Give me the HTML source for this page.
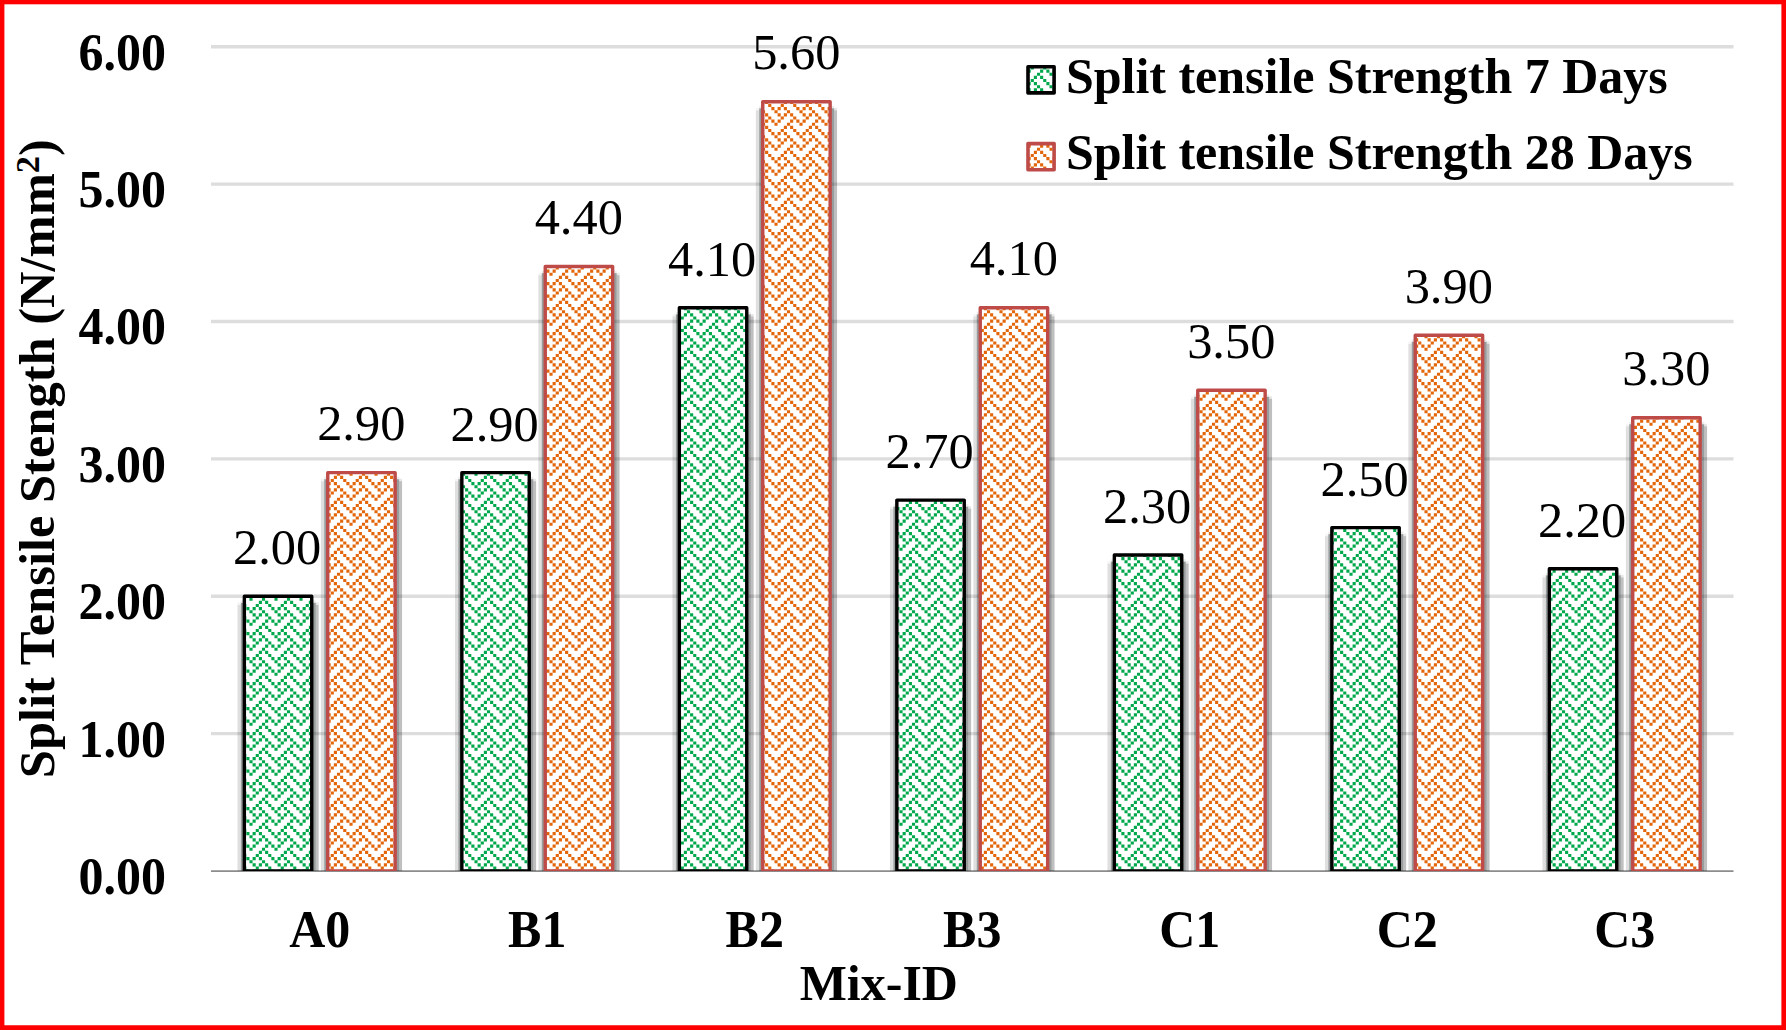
<!DOCTYPE html>
<html lang="en">
<head>
<meta charset="utf-8">
<title>Split Tensile Strength</title>
<style>
html,body{margin:0;padding:0;background:#fff;}
body{width:1786px;height:1030px;overflow:hidden;}
svg{display:block;}
text{font-family:"Liberation Serif","Times New Roman",serif;fill:#000;}
.b{font-weight:bold;}
</style>
</head>
<body>
<svg width="1786" height="1030" viewBox="0 0 1786 1030">
<defs>
<path id="pg" fill="#00A84C" d="M3.125 0h3.125v3.125h-3.125zM9.375 0h3.125v3.125h-3.125zM15.625 0h3.125v3.125h-3.125zM6.25 3.125h3.125v3.125h-3.125zM18.75 3.125h3.125v3.125h-3.125zM3.125 6.25h3.125v3.125h-3.125zM15.625 6.25h3.125v3.125h-3.125zM21.875 6.25h3.125v3.125h-3.125zM0 9.375h3.125v3.125h-3.125zM12.5 9.375h3.125v3.125h-3.125zM9.375 12.5h3.125v3.125h-3.125zM15.625 12.5h3.125v3.125h-3.125zM6.25 15.625h3.125v3.125h-3.125zM18.75 15.625h3.125v3.125h-3.125zM3.125 18.75h3.125v3.125h-3.125zM9.375 18.75h3.125v3.125h-3.125zM21.875 18.75h3.125v3.125h-3.125zM0 21.875h3.125v3.125h-3.125zM12.5 21.875h3.125v3.125h-3.125z"/>
<path id="po" fill="#E3660A" d="M3.125 0h3.125v3.125h-3.125zM9.375 0h3.125v3.125h-3.125zM15.625 0h3.125v3.125h-3.125zM6.25 3.125h3.125v3.125h-3.125zM18.75 3.125h3.125v3.125h-3.125zM3.125 6.25h3.125v3.125h-3.125zM15.625 6.25h3.125v3.125h-3.125zM21.875 6.25h3.125v3.125h-3.125zM0 9.375h3.125v3.125h-3.125zM12.5 9.375h3.125v3.125h-3.125zM9.375 12.5h3.125v3.125h-3.125zM15.625 12.5h3.125v3.125h-3.125zM6.25 15.625h3.125v3.125h-3.125zM18.75 15.625h3.125v3.125h-3.125zM3.125 18.75h3.125v3.125h-3.125zM9.375 18.75h3.125v3.125h-3.125zM21.875 18.75h3.125v3.125h-3.125zM0 21.875h3.125v3.125h-3.125zM12.5 21.875h3.125v3.125h-3.125z"/>
<clipPath id="plot"><rect x="0" y="0" width="1786" height="870.9"/></clipPath>
</defs>
<rect x="0" y="0" width="1786" height="1030" fill="#fff"/>
<g stroke="#dddddd" stroke-width="3.35"><line x1="211.0" y1="733.63" x2="1733.5" y2="733.63"/><line x1="211.0" y1="596.26" x2="1733.5" y2="596.26"/><line x1="211.0" y1="458.89" x2="1733.5" y2="458.89"/><line x1="211.0" y1="321.52" x2="1733.5" y2="321.52"/><line x1="211.0" y1="184.15" x2="1733.5" y2="184.15"/><line x1="211.0" y1="46.78" x2="1733.5" y2="46.78"/></g>
<line x1="211.0" y1="871.15" x2="1733.5" y2="871.15" stroke="#8c8c8c" stroke-width="1.9"/>
<g clip-path="url(#plot)"><rect x="237.45" y="604.86" width="3.4" height="276.44" fill="#000" fill-opacity="0.125"/><rect x="237.45" y="602.36" width="3.4" height="2.5" fill="#000" fill-opacity="0.04"/><rect x="240.85" y="602.86" width="2.6" height="276.44" fill="#0a1414" fill-opacity="0.42"/><rect x="240.85" y="600.36" width="2.6" height="2.5" fill="#000" fill-opacity="0.08"/><rect x="312.65" y="602.86" width="3.1" height="276.44" fill="#0a1414" fill-opacity="0.42"/><rect x="312.65" y="600.36" width="3.1" height="2.5" fill="#000" fill-opacity="0.08"/><rect x="315.75" y="604.86" width="2.9" height="276.44" fill="#000" fill-opacity="0.25"/><rect x="315.75" y="602.36" width="2.9" height="2.5" fill="#000" fill-opacity="0.09"/><svg x="244.35" y="596.26" width="67.40" height="274.64" viewBox="244.35 596.26 67.40 274.64"><rect x="244.35" y="596.26" width="67.40" height="274.64" fill="#fff"/><use href="#pg" x="224.46" y="588.37"/><use href="#pg" x="249.46" y="588.37"/><use href="#pg" x="274.46" y="588.37"/><use href="#pg" x="299.46" y="588.37"/><use href="#pg" x="224.46" y="613.37"/><use href="#pg" x="249.46" y="613.37"/><use href="#pg" x="274.46" y="613.37"/><use href="#pg" x="299.46" y="613.37"/><use href="#pg" x="224.46" y="638.37"/><use href="#pg" x="249.46" y="638.37"/><use href="#pg" x="274.46" y="638.37"/><use href="#pg" x="299.46" y="638.37"/><use href="#pg" x="224.46" y="663.37"/><use href="#pg" x="249.46" y="663.37"/><use href="#pg" x="274.46" y="663.37"/><use href="#pg" x="299.46" y="663.37"/><use href="#pg" x="224.46" y="688.37"/><use href="#pg" x="249.46" y="688.37"/><use href="#pg" x="274.46" y="688.37"/><use href="#pg" x="299.46" y="688.37"/><use href="#pg" x="224.46" y="713.37"/><use href="#pg" x="249.46" y="713.37"/><use href="#pg" x="274.46" y="713.37"/><use href="#pg" x="299.46" y="713.37"/><use href="#pg" x="224.46" y="738.37"/><use href="#pg" x="249.46" y="738.37"/><use href="#pg" x="274.46" y="738.37"/><use href="#pg" x="299.46" y="738.37"/><use href="#pg" x="224.46" y="763.37"/><use href="#pg" x="249.46" y="763.37"/><use href="#pg" x="274.46" y="763.37"/><use href="#pg" x="299.46" y="763.37"/><use href="#pg" x="224.46" y="788.37"/><use href="#pg" x="249.46" y="788.37"/><use href="#pg" x="274.46" y="788.37"/><use href="#pg" x="299.46" y="788.37"/><use href="#pg" x="224.46" y="813.37"/><use href="#pg" x="249.46" y="813.37"/><use href="#pg" x="274.46" y="813.37"/><use href="#pg" x="299.46" y="813.37"/><use href="#pg" x="224.46" y="838.37"/><use href="#pg" x="249.46" y="838.37"/><use href="#pg" x="274.46" y="838.37"/><use href="#pg" x="299.46" y="838.37"/><use href="#pg" x="224.46" y="863.37"/><use href="#pg" x="249.46" y="863.37"/><use href="#pg" x="274.46" y="863.37"/><use href="#pg" x="299.46" y="863.37"/></svg><rect x="244.35" y="596.26" width="67.40" height="274.64" fill="none" stroke="#000" stroke-width="3.4" stroke-linejoin="round"/><rect x="320.85" y="481.23" width="3.4" height="400.07" fill="#000" fill-opacity="0.125"/><rect x="320.85" y="478.73" width="3.4" height="2.5" fill="#000" fill-opacity="0.04"/><rect x="324.25" y="479.23" width="2.6" height="400.07" fill="#0a1414" fill-opacity="0.42"/><rect x="324.25" y="476.73" width="2.6" height="2.5" fill="#000" fill-opacity="0.08"/><rect x="396.05" y="479.23" width="3.1" height="400.07" fill="#0a1414" fill-opacity="0.42"/><rect x="396.05" y="476.73" width="3.1" height="2.5" fill="#000" fill-opacity="0.08"/><rect x="399.15" y="481.23" width="2.9" height="400.07" fill="#000" fill-opacity="0.25"/><rect x="399.15" y="478.73" width="2.9" height="2.5" fill="#000" fill-opacity="0.09"/><svg x="327.75" y="472.63" width="67.40" height="398.27" viewBox="327.75 472.63 67.40 398.27"><rect x="327.75" y="472.63" width="67.40" height="398.27" fill="#fff"/><use href="#po" x="324.46" y="463.37"/><use href="#po" x="349.46" y="463.37"/><use href="#po" x="374.46" y="463.37"/><use href="#po" x="324.46" y="488.37"/><use href="#po" x="349.46" y="488.37"/><use href="#po" x="374.46" y="488.37"/><use href="#po" x="324.46" y="513.37"/><use href="#po" x="349.46" y="513.37"/><use href="#po" x="374.46" y="513.37"/><use href="#po" x="324.46" y="538.37"/><use href="#po" x="349.46" y="538.37"/><use href="#po" x="374.46" y="538.37"/><use href="#po" x="324.46" y="563.37"/><use href="#po" x="349.46" y="563.37"/><use href="#po" x="374.46" y="563.37"/><use href="#po" x="324.46" y="588.37"/><use href="#po" x="349.46" y="588.37"/><use href="#po" x="374.46" y="588.37"/><use href="#po" x="324.46" y="613.37"/><use href="#po" x="349.46" y="613.37"/><use href="#po" x="374.46" y="613.37"/><use href="#po" x="324.46" y="638.37"/><use href="#po" x="349.46" y="638.37"/><use href="#po" x="374.46" y="638.37"/><use href="#po" x="324.46" y="663.37"/><use href="#po" x="349.46" y="663.37"/><use href="#po" x="374.46" y="663.37"/><use href="#po" x="324.46" y="688.37"/><use href="#po" x="349.46" y="688.37"/><use href="#po" x="374.46" y="688.37"/><use href="#po" x="324.46" y="713.37"/><use href="#po" x="349.46" y="713.37"/><use href="#po" x="374.46" y="713.37"/><use href="#po" x="324.46" y="738.37"/><use href="#po" x="349.46" y="738.37"/><use href="#po" x="374.46" y="738.37"/><use href="#po" x="324.46" y="763.37"/><use href="#po" x="349.46" y="763.37"/><use href="#po" x="374.46" y="763.37"/><use href="#po" x="324.46" y="788.37"/><use href="#po" x="349.46" y="788.37"/><use href="#po" x="374.46" y="788.37"/><use href="#po" x="324.46" y="813.37"/><use href="#po" x="349.46" y="813.37"/><use href="#po" x="374.46" y="813.37"/><use href="#po" x="324.46" y="838.37"/><use href="#po" x="349.46" y="838.37"/><use href="#po" x="374.46" y="838.37"/><use href="#po" x="324.46" y="863.37"/><use href="#po" x="349.46" y="863.37"/><use href="#po" x="374.46" y="863.37"/></svg><rect x="327.75" y="472.63" width="67.40" height="398.27" fill="none" stroke="#BE4B48" stroke-width="3.4" stroke-linejoin="round"/><rect x="454.95" y="481.23" width="3.4" height="400.07" fill="#000" fill-opacity="0.125"/><rect x="454.95" y="478.73" width="3.4" height="2.5" fill="#000" fill-opacity="0.04"/><rect x="458.35" y="479.23" width="2.6" height="400.07" fill="#0a1414" fill-opacity="0.42"/><rect x="458.35" y="476.73" width="2.6" height="2.5" fill="#000" fill-opacity="0.08"/><rect x="530.15" y="479.23" width="3.1" height="400.07" fill="#0a1414" fill-opacity="0.42"/><rect x="530.15" y="476.73" width="3.1" height="2.5" fill="#000" fill-opacity="0.08"/><rect x="533.25" y="481.23" width="2.9" height="400.07" fill="#000" fill-opacity="0.25"/><rect x="533.25" y="478.73" width="2.9" height="2.5" fill="#000" fill-opacity="0.09"/><svg x="461.85" y="472.63" width="67.40" height="398.27" viewBox="461.85 472.63 67.40 398.27"><rect x="461.85" y="472.63" width="67.40" height="398.27" fill="#fff"/><use href="#pg" x="449.46" y="463.37"/><use href="#pg" x="474.46" y="463.37"/><use href="#pg" x="499.46" y="463.37"/><use href="#pg" x="524.46" y="463.37"/><use href="#pg" x="449.46" y="488.37"/><use href="#pg" x="474.46" y="488.37"/><use href="#pg" x="499.46" y="488.37"/><use href="#pg" x="524.46" y="488.37"/><use href="#pg" x="449.46" y="513.37"/><use href="#pg" x="474.46" y="513.37"/><use href="#pg" x="499.46" y="513.37"/><use href="#pg" x="524.46" y="513.37"/><use href="#pg" x="449.46" y="538.37"/><use href="#pg" x="474.46" y="538.37"/><use href="#pg" x="499.46" y="538.37"/><use href="#pg" x="524.46" y="538.37"/><use href="#pg" x="449.46" y="563.37"/><use href="#pg" x="474.46" y="563.37"/><use href="#pg" x="499.46" y="563.37"/><use href="#pg" x="524.46" y="563.37"/><use href="#pg" x="449.46" y="588.37"/><use href="#pg" x="474.46" y="588.37"/><use href="#pg" x="499.46" y="588.37"/><use href="#pg" x="524.46" y="588.37"/><use href="#pg" x="449.46" y="613.37"/><use href="#pg" x="474.46" y="613.37"/><use href="#pg" x="499.46" y="613.37"/><use href="#pg" x="524.46" y="613.37"/><use href="#pg" x="449.46" y="638.37"/><use href="#pg" x="474.46" y="638.37"/><use href="#pg" x="499.46" y="638.37"/><use href="#pg" x="524.46" y="638.37"/><use href="#pg" x="449.46" y="663.37"/><use href="#pg" x="474.46" y="663.37"/><use href="#pg" x="499.46" y="663.37"/><use href="#pg" x="524.46" y="663.37"/><use href="#pg" x="449.46" y="688.37"/><use href="#pg" x="474.46" y="688.37"/><use href="#pg" x="499.46" y="688.37"/><use href="#pg" x="524.46" y="688.37"/><use href="#pg" x="449.46" y="713.37"/><use href="#pg" x="474.46" y="713.37"/><use href="#pg" x="499.46" y="713.37"/><use href="#pg" x="524.46" y="713.37"/><use href="#pg" x="449.46" y="738.37"/><use href="#pg" x="474.46" y="738.37"/><use href="#pg" x="499.46" y="738.37"/><use href="#pg" x="524.46" y="738.37"/><use href="#pg" x="449.46" y="763.37"/><use href="#pg" x="474.46" y="763.37"/><use href="#pg" x="499.46" y="763.37"/><use href="#pg" x="524.46" y="763.37"/><use href="#pg" x="449.46" y="788.37"/><use href="#pg" x="474.46" y="788.37"/><use href="#pg" x="499.46" y="788.37"/><use href="#pg" x="524.46" y="788.37"/><use href="#pg" x="449.46" y="813.37"/><use href="#pg" x="474.46" y="813.37"/><use href="#pg" x="499.46" y="813.37"/><use href="#pg" x="524.46" y="813.37"/><use href="#pg" x="449.46" y="838.37"/><use href="#pg" x="474.46" y="838.37"/><use href="#pg" x="499.46" y="838.37"/><use href="#pg" x="524.46" y="838.37"/><use href="#pg" x="449.46" y="863.37"/><use href="#pg" x="474.46" y="863.37"/><use href="#pg" x="499.46" y="863.37"/><use href="#pg" x="524.46" y="863.37"/></svg><rect x="461.85" y="472.63" width="67.40" height="398.27" fill="none" stroke="#000" stroke-width="3.4" stroke-linejoin="round"/><rect x="538.35" y="275.17" width="3.4" height="606.13" fill="#000" fill-opacity="0.125"/><rect x="538.35" y="272.67" width="3.4" height="2.5" fill="#000" fill-opacity="0.04"/><rect x="541.75" y="273.17" width="2.6" height="606.13" fill="#0a1414" fill-opacity="0.42"/><rect x="541.75" y="270.67" width="2.6" height="2.5" fill="#000" fill-opacity="0.08"/><rect x="613.55" y="273.17" width="3.1" height="606.13" fill="#0a1414" fill-opacity="0.42"/><rect x="613.55" y="270.67" width="3.1" height="2.5" fill="#000" fill-opacity="0.08"/><rect x="616.65" y="275.17" width="2.9" height="606.13" fill="#000" fill-opacity="0.25"/><rect x="616.65" y="272.67" width="2.9" height="2.5" fill="#000" fill-opacity="0.09"/><svg x="545.25" y="266.57" width="67.40" height="604.33" viewBox="545.25 266.57 67.40 604.33"><rect x="545.25" y="266.57" width="67.40" height="604.33" fill="#fff"/><use href="#po" x="524.46" y="263.37"/><use href="#po" x="549.46" y="263.37"/><use href="#po" x="574.46" y="263.37"/><use href="#po" x="599.46" y="263.37"/><use href="#po" x="524.46" y="288.37"/><use href="#po" x="549.46" y="288.37"/><use href="#po" x="574.46" y="288.37"/><use href="#po" x="599.46" y="288.37"/><use href="#po" x="524.46" y="313.37"/><use href="#po" x="549.46" y="313.37"/><use href="#po" x="574.46" y="313.37"/><use href="#po" x="599.46" y="313.37"/><use href="#po" x="524.46" y="338.37"/><use href="#po" x="549.46" y="338.37"/><use href="#po" x="574.46" y="338.37"/><use href="#po" x="599.46" y="338.37"/><use href="#po" x="524.46" y="363.37"/><use href="#po" x="549.46" y="363.37"/><use href="#po" x="574.46" y="363.37"/><use href="#po" x="599.46" y="363.37"/><use href="#po" x="524.46" y="388.37"/><use href="#po" x="549.46" y="388.37"/><use href="#po" x="574.46" y="388.37"/><use href="#po" x="599.46" y="388.37"/><use href="#po" x="524.46" y="413.37"/><use href="#po" x="549.46" y="413.37"/><use href="#po" x="574.46" y="413.37"/><use href="#po" x="599.46" y="413.37"/><use href="#po" x="524.46" y="438.37"/><use href="#po" x="549.46" y="438.37"/><use href="#po" x="574.46" y="438.37"/><use href="#po" x="599.46" y="438.37"/><use href="#po" x="524.46" y="463.37"/><use href="#po" x="549.46" y="463.37"/><use href="#po" x="574.46" y="463.37"/><use href="#po" x="599.46" y="463.37"/><use href="#po" x="524.46" y="488.37"/><use href="#po" x="549.46" y="488.37"/><use href="#po" x="574.46" y="488.37"/><use href="#po" x="599.46" y="488.37"/><use href="#po" x="524.46" y="513.37"/><use href="#po" x="549.46" y="513.37"/><use href="#po" x="574.46" y="513.37"/><use href="#po" x="599.46" y="513.37"/><use href="#po" x="524.46" y="538.37"/><use href="#po" x="549.46" y="538.37"/><use href="#po" x="574.46" y="538.37"/><use href="#po" x="599.46" y="538.37"/><use href="#po" x="524.46" y="563.37"/><use href="#po" x="549.46" y="563.37"/><use href="#po" x="574.46" y="563.37"/><use href="#po" x="599.46" y="563.37"/><use href="#po" x="524.46" y="588.37"/><use href="#po" x="549.46" y="588.37"/><use href="#po" x="574.46" y="588.37"/><use href="#po" x="599.46" y="588.37"/><use href="#po" x="524.46" y="613.37"/><use href="#po" x="549.46" y="613.37"/><use href="#po" x="574.46" y="613.37"/><use href="#po" x="599.46" y="613.37"/><use href="#po" x="524.46" y="638.37"/><use href="#po" x="549.46" y="638.37"/><use href="#po" x="574.46" y="638.37"/><use href="#po" x="599.46" y="638.37"/><use href="#po" x="524.46" y="663.37"/><use href="#po" x="549.46" y="663.37"/><use href="#po" x="574.46" y="663.37"/><use href="#po" x="599.46" y="663.37"/><use href="#po" x="524.46" y="688.37"/><use href="#po" x="549.46" y="688.37"/><use href="#po" x="574.46" y="688.37"/><use href="#po" x="599.46" y="688.37"/><use href="#po" x="524.46" y="713.37"/><use href="#po" x="549.46" y="713.37"/><use href="#po" x="574.46" y="713.37"/><use href="#po" x="599.46" y="713.37"/><use href="#po" x="524.46" y="738.37"/><use href="#po" x="549.46" y="738.37"/><use href="#po" x="574.46" y="738.37"/><use href="#po" x="599.46" y="738.37"/><use href="#po" x="524.46" y="763.37"/><use href="#po" x="549.46" y="763.37"/><use href="#po" x="574.46" y="763.37"/><use href="#po" x="599.46" y="763.37"/><use href="#po" x="524.46" y="788.37"/><use href="#po" x="549.46" y="788.37"/><use href="#po" x="574.46" y="788.37"/><use href="#po" x="599.46" y="788.37"/><use href="#po" x="524.46" y="813.37"/><use href="#po" x="549.46" y="813.37"/><use href="#po" x="574.46" y="813.37"/><use href="#po" x="599.46" y="813.37"/><use href="#po" x="524.46" y="838.37"/><use href="#po" x="549.46" y="838.37"/><use href="#po" x="574.46" y="838.37"/><use href="#po" x="599.46" y="838.37"/><use href="#po" x="524.46" y="863.37"/><use href="#po" x="549.46" y="863.37"/><use href="#po" x="574.46" y="863.37"/><use href="#po" x="599.46" y="863.37"/></svg><rect x="545.25" y="266.57" width="67.40" height="604.33" fill="none" stroke="#BE4B48" stroke-width="3.4" stroke-linejoin="round"/><rect x="672.45" y="316.38" width="3.4" height="564.92" fill="#000" fill-opacity="0.125"/><rect x="672.45" y="313.88" width="3.4" height="2.5" fill="#000" fill-opacity="0.04"/><rect x="675.85" y="314.38" width="2.6" height="564.92" fill="#0a1414" fill-opacity="0.42"/><rect x="675.85" y="311.88" width="2.6" height="2.5" fill="#000" fill-opacity="0.08"/><rect x="747.65" y="314.38" width="3.1" height="564.92" fill="#0a1414" fill-opacity="0.42"/><rect x="747.65" y="311.88" width="3.1" height="2.5" fill="#000" fill-opacity="0.08"/><rect x="750.75" y="316.38" width="2.9" height="564.92" fill="#000" fill-opacity="0.25"/><rect x="750.75" y="313.88" width="2.9" height="2.5" fill="#000" fill-opacity="0.09"/><svg x="679.35" y="307.78" width="67.40" height="563.12" viewBox="679.35 307.78 67.40 563.12"><rect x="679.35" y="307.78" width="67.40" height="563.12" fill="#fff"/><use href="#pg" x="674.46" y="288.37"/><use href="#pg" x="699.46" y="288.37"/><use href="#pg" x="724.46" y="288.37"/><use href="#pg" x="674.46" y="313.37"/><use href="#pg" x="699.46" y="313.37"/><use href="#pg" x="724.46" y="313.37"/><use href="#pg" x="674.46" y="338.37"/><use href="#pg" x="699.46" y="338.37"/><use href="#pg" x="724.46" y="338.37"/><use href="#pg" x="674.46" y="363.37"/><use href="#pg" x="699.46" y="363.37"/><use href="#pg" x="724.46" y="363.37"/><use href="#pg" x="674.46" y="388.37"/><use href="#pg" x="699.46" y="388.37"/><use href="#pg" x="724.46" y="388.37"/><use href="#pg" x="674.46" y="413.37"/><use href="#pg" x="699.46" y="413.37"/><use href="#pg" x="724.46" y="413.37"/><use href="#pg" x="674.46" y="438.37"/><use href="#pg" x="699.46" y="438.37"/><use href="#pg" x="724.46" y="438.37"/><use href="#pg" x="674.46" y="463.37"/><use href="#pg" x="699.46" y="463.37"/><use href="#pg" x="724.46" y="463.37"/><use href="#pg" x="674.46" y="488.37"/><use href="#pg" x="699.46" y="488.37"/><use href="#pg" x="724.46" y="488.37"/><use href="#pg" x="674.46" y="513.37"/><use href="#pg" x="699.46" y="513.37"/><use href="#pg" x="724.46" y="513.37"/><use href="#pg" x="674.46" y="538.37"/><use href="#pg" x="699.46" y="538.37"/><use href="#pg" x="724.46" y="538.37"/><use href="#pg" x="674.46" y="563.37"/><use href="#pg" x="699.46" y="563.37"/><use href="#pg" x="724.46" y="563.37"/><use href="#pg" x="674.46" y="588.37"/><use href="#pg" x="699.46" y="588.37"/><use href="#pg" x="724.46" y="588.37"/><use href="#pg" x="674.46" y="613.37"/><use href="#pg" x="699.46" y="613.37"/><use href="#pg" x="724.46" y="613.37"/><use href="#pg" x="674.46" y="638.37"/><use href="#pg" x="699.46" y="638.37"/><use href="#pg" x="724.46" y="638.37"/><use href="#pg" x="674.46" y="663.37"/><use href="#pg" x="699.46" y="663.37"/><use href="#pg" x="724.46" y="663.37"/><use href="#pg" x="674.46" y="688.37"/><use href="#pg" x="699.46" y="688.37"/><use href="#pg" x="724.46" y="688.37"/><use href="#pg" x="674.46" y="713.37"/><use href="#pg" x="699.46" y="713.37"/><use href="#pg" x="724.46" y="713.37"/><use href="#pg" x="674.46" y="738.37"/><use href="#pg" x="699.46" y="738.37"/><use href="#pg" x="724.46" y="738.37"/><use href="#pg" x="674.46" y="763.37"/><use href="#pg" x="699.46" y="763.37"/><use href="#pg" x="724.46" y="763.37"/><use href="#pg" x="674.46" y="788.37"/><use href="#pg" x="699.46" y="788.37"/><use href="#pg" x="724.46" y="788.37"/><use href="#pg" x="674.46" y="813.37"/><use href="#pg" x="699.46" y="813.37"/><use href="#pg" x="724.46" y="813.37"/><use href="#pg" x="674.46" y="838.37"/><use href="#pg" x="699.46" y="838.37"/><use href="#pg" x="724.46" y="838.37"/><use href="#pg" x="674.46" y="863.37"/><use href="#pg" x="699.46" y="863.37"/><use href="#pg" x="724.46" y="863.37"/></svg><rect x="679.35" y="307.78" width="67.40" height="563.12" fill="none" stroke="#000" stroke-width="3.4" stroke-linejoin="round"/><rect x="755.85" y="110.33" width="3.4" height="770.97" fill="#000" fill-opacity="0.125"/><rect x="755.85" y="107.83" width="3.4" height="2.5" fill="#000" fill-opacity="0.04"/><rect x="759.25" y="108.33" width="2.6" height="770.97" fill="#0a1414" fill-opacity="0.42"/><rect x="759.25" y="105.83" width="2.6" height="2.5" fill="#000" fill-opacity="0.08"/><rect x="831.05" y="108.33" width="3.1" height="770.97" fill="#0a1414" fill-opacity="0.42"/><rect x="831.05" y="105.83" width="3.1" height="2.5" fill="#000" fill-opacity="0.08"/><rect x="834.15" y="110.33" width="2.9" height="770.97" fill="#000" fill-opacity="0.25"/><rect x="834.15" y="107.83" width="2.9" height="2.5" fill="#000" fill-opacity="0.09"/><svg x="762.75" y="101.73" width="67.40" height="769.17" viewBox="762.75 101.73 67.40 769.17"><rect x="762.75" y="101.73" width="67.40" height="769.17" fill="#fff"/><use href="#po" x="749.46" y="88.37"/><use href="#po" x="774.46" y="88.37"/><use href="#po" x="799.46" y="88.37"/><use href="#po" x="824.46" y="88.37"/><use href="#po" x="749.46" y="113.37"/><use href="#po" x="774.46" y="113.37"/><use href="#po" x="799.46" y="113.37"/><use href="#po" x="824.46" y="113.37"/><use href="#po" x="749.46" y="138.37"/><use href="#po" x="774.46" y="138.37"/><use href="#po" x="799.46" y="138.37"/><use href="#po" x="824.46" y="138.37"/><use href="#po" x="749.46" y="163.37"/><use href="#po" x="774.46" y="163.37"/><use href="#po" x="799.46" y="163.37"/><use href="#po" x="824.46" y="163.37"/><use href="#po" x="749.46" y="188.37"/><use href="#po" x="774.46" y="188.37"/><use href="#po" x="799.46" y="188.37"/><use href="#po" x="824.46" y="188.37"/><use href="#po" x="749.46" y="213.37"/><use href="#po" x="774.46" y="213.37"/><use href="#po" x="799.46" y="213.37"/><use href="#po" x="824.46" y="213.37"/><use href="#po" x="749.46" y="238.37"/><use href="#po" x="774.46" y="238.37"/><use href="#po" x="799.46" y="238.37"/><use href="#po" x="824.46" y="238.37"/><use href="#po" x="749.46" y="263.37"/><use href="#po" x="774.46" y="263.37"/><use href="#po" x="799.46" y="263.37"/><use href="#po" x="824.46" y="263.37"/><use href="#po" x="749.46" y="288.37"/><use href="#po" x="774.46" y="288.37"/><use href="#po" x="799.46" y="288.37"/><use href="#po" x="824.46" y="288.37"/><use href="#po" x="749.46" y="313.37"/><use href="#po" x="774.46" y="313.37"/><use href="#po" x="799.46" y="313.37"/><use href="#po" x="824.46" y="313.37"/><use href="#po" x="749.46" y="338.37"/><use href="#po" x="774.46" y="338.37"/><use href="#po" x="799.46" y="338.37"/><use href="#po" x="824.46" y="338.37"/><use href="#po" x="749.46" y="363.37"/><use href="#po" x="774.46" y="363.37"/><use href="#po" x="799.46" y="363.37"/><use href="#po" x="824.46" y="363.37"/><use href="#po" x="749.46" y="388.37"/><use href="#po" x="774.46" y="388.37"/><use href="#po" x="799.46" y="388.37"/><use href="#po" x="824.46" y="388.37"/><use href="#po" x="749.46" y="413.37"/><use href="#po" x="774.46" y="413.37"/><use href="#po" x="799.46" y="413.37"/><use href="#po" x="824.46" y="413.37"/><use href="#po" x="749.46" y="438.37"/><use href="#po" x="774.46" y="438.37"/><use href="#po" x="799.46" y="438.37"/><use href="#po" x="824.46" y="438.37"/><use href="#po" x="749.46" y="463.37"/><use href="#po" x="774.46" y="463.37"/><use href="#po" x="799.46" y="463.37"/><use href="#po" x="824.46" y="463.37"/><use href="#po" x="749.46" y="488.37"/><use href="#po" x="774.46" y="488.37"/><use href="#po" x="799.46" y="488.37"/><use href="#po" x="824.46" y="488.37"/><use href="#po" x="749.46" y="513.37"/><use href="#po" x="774.46" y="513.37"/><use href="#po" x="799.46" y="513.37"/><use href="#po" x="824.46" y="513.37"/><use href="#po" x="749.46" y="538.37"/><use href="#po" x="774.46" y="538.37"/><use href="#po" x="799.46" y="538.37"/><use href="#po" x="824.46" y="538.37"/><use href="#po" x="749.46" y="563.37"/><use href="#po" x="774.46" y="563.37"/><use href="#po" x="799.46" y="563.37"/><use href="#po" x="824.46" y="563.37"/><use href="#po" x="749.46" y="588.37"/><use href="#po" x="774.46" y="588.37"/><use href="#po" x="799.46" y="588.37"/><use href="#po" x="824.46" y="588.37"/><use href="#po" x="749.46" y="613.37"/><use href="#po" x="774.46" y="613.37"/><use href="#po" x="799.46" y="613.37"/><use href="#po" x="824.46" y="613.37"/><use href="#po" x="749.46" y="638.37"/><use href="#po" x="774.46" y="638.37"/><use href="#po" x="799.46" y="638.37"/><use href="#po" x="824.46" y="638.37"/><use href="#po" x="749.46" y="663.37"/><use href="#po" x="774.46" y="663.37"/><use href="#po" x="799.46" y="663.37"/><use href="#po" x="824.46" y="663.37"/><use href="#po" x="749.46" y="688.37"/><use href="#po" x="774.46" y="688.37"/><use href="#po" x="799.46" y="688.37"/><use href="#po" x="824.46" y="688.37"/><use href="#po" x="749.46" y="713.37"/><use href="#po" x="774.46" y="713.37"/><use href="#po" x="799.46" y="713.37"/><use href="#po" x="824.46" y="713.37"/><use href="#po" x="749.46" y="738.37"/><use href="#po" x="774.46" y="738.37"/><use href="#po" x="799.46" y="738.37"/><use href="#po" x="824.46" y="738.37"/><use href="#po" x="749.46" y="763.37"/><use href="#po" x="774.46" y="763.37"/><use href="#po" x="799.46" y="763.37"/><use href="#po" x="824.46" y="763.37"/><use href="#po" x="749.46" y="788.37"/><use href="#po" x="774.46" y="788.37"/><use href="#po" x="799.46" y="788.37"/><use href="#po" x="824.46" y="788.37"/><use href="#po" x="749.46" y="813.37"/><use href="#po" x="774.46" y="813.37"/><use href="#po" x="799.46" y="813.37"/><use href="#po" x="824.46" y="813.37"/><use href="#po" x="749.46" y="838.37"/><use href="#po" x="774.46" y="838.37"/><use href="#po" x="799.46" y="838.37"/><use href="#po" x="824.46" y="838.37"/><use href="#po" x="749.46" y="863.37"/><use href="#po" x="774.46" y="863.37"/><use href="#po" x="799.46" y="863.37"/><use href="#po" x="824.46" y="863.37"/></svg><rect x="762.75" y="101.73" width="67.40" height="769.17" fill="none" stroke="#BE4B48" stroke-width="3.4" stroke-linejoin="round"/><rect x="889.95" y="508.70" width="3.4" height="372.60" fill="#000" fill-opacity="0.125"/><rect x="889.95" y="506.20" width="3.4" height="2.5" fill="#000" fill-opacity="0.04"/><rect x="893.35" y="506.70" width="2.6" height="372.60" fill="#0a1414" fill-opacity="0.42"/><rect x="893.35" y="504.20" width="2.6" height="2.5" fill="#000" fill-opacity="0.08"/><rect x="965.15" y="506.70" width="3.1" height="372.60" fill="#0a1414" fill-opacity="0.42"/><rect x="965.15" y="504.20" width="3.1" height="2.5" fill="#000" fill-opacity="0.08"/><rect x="968.25" y="508.70" width="2.9" height="372.60" fill="#000" fill-opacity="0.25"/><rect x="968.25" y="506.20" width="2.9" height="2.5" fill="#000" fill-opacity="0.09"/><svg x="896.85" y="500.10" width="67.40" height="370.80" viewBox="896.85 500.10 67.40 370.80"><rect x="896.85" y="500.10" width="67.40" height="370.80" fill="#fff"/><use href="#pg" x="874.46" y="488.37"/><use href="#pg" x="899.46" y="488.37"/><use href="#pg" x="924.46" y="488.37"/><use href="#pg" x="949.46" y="488.37"/><use href="#pg" x="874.46" y="513.37"/><use href="#pg" x="899.46" y="513.37"/><use href="#pg" x="924.46" y="513.37"/><use href="#pg" x="949.46" y="513.37"/><use href="#pg" x="874.46" y="538.37"/><use href="#pg" x="899.46" y="538.37"/><use href="#pg" x="924.46" y="538.37"/><use href="#pg" x="949.46" y="538.37"/><use href="#pg" x="874.46" y="563.37"/><use href="#pg" x="899.46" y="563.37"/><use href="#pg" x="924.46" y="563.37"/><use href="#pg" x="949.46" y="563.37"/><use href="#pg" x="874.46" y="588.37"/><use href="#pg" x="899.46" y="588.37"/><use href="#pg" x="924.46" y="588.37"/><use href="#pg" x="949.46" y="588.37"/><use href="#pg" x="874.46" y="613.37"/><use href="#pg" x="899.46" y="613.37"/><use href="#pg" x="924.46" y="613.37"/><use href="#pg" x="949.46" y="613.37"/><use href="#pg" x="874.46" y="638.37"/><use href="#pg" x="899.46" y="638.37"/><use href="#pg" x="924.46" y="638.37"/><use href="#pg" x="949.46" y="638.37"/><use href="#pg" x="874.46" y="663.37"/><use href="#pg" x="899.46" y="663.37"/><use href="#pg" x="924.46" y="663.37"/><use href="#pg" x="949.46" y="663.37"/><use href="#pg" x="874.46" y="688.37"/><use href="#pg" x="899.46" y="688.37"/><use href="#pg" x="924.46" y="688.37"/><use href="#pg" x="949.46" y="688.37"/><use href="#pg" x="874.46" y="713.37"/><use href="#pg" x="899.46" y="713.37"/><use href="#pg" x="924.46" y="713.37"/><use href="#pg" x="949.46" y="713.37"/><use href="#pg" x="874.46" y="738.37"/><use href="#pg" x="899.46" y="738.37"/><use href="#pg" x="924.46" y="738.37"/><use href="#pg" x="949.46" y="738.37"/><use href="#pg" x="874.46" y="763.37"/><use href="#pg" x="899.46" y="763.37"/><use href="#pg" x="924.46" y="763.37"/><use href="#pg" x="949.46" y="763.37"/><use href="#pg" x="874.46" y="788.37"/><use href="#pg" x="899.46" y="788.37"/><use href="#pg" x="924.46" y="788.37"/><use href="#pg" x="949.46" y="788.37"/><use href="#pg" x="874.46" y="813.37"/><use href="#pg" x="899.46" y="813.37"/><use href="#pg" x="924.46" y="813.37"/><use href="#pg" x="949.46" y="813.37"/><use href="#pg" x="874.46" y="838.37"/><use href="#pg" x="899.46" y="838.37"/><use href="#pg" x="924.46" y="838.37"/><use href="#pg" x="949.46" y="838.37"/><use href="#pg" x="874.46" y="863.37"/><use href="#pg" x="899.46" y="863.37"/><use href="#pg" x="924.46" y="863.37"/><use href="#pg" x="949.46" y="863.37"/></svg><rect x="896.85" y="500.10" width="67.40" height="370.80" fill="none" stroke="#000" stroke-width="3.4" stroke-linejoin="round"/><rect x="973.35" y="316.38" width="3.4" height="564.92" fill="#000" fill-opacity="0.125"/><rect x="973.35" y="313.88" width="3.4" height="2.5" fill="#000" fill-opacity="0.04"/><rect x="976.75" y="314.38" width="2.6" height="564.92" fill="#0a1414" fill-opacity="0.42"/><rect x="976.75" y="311.88" width="2.6" height="2.5" fill="#000" fill-opacity="0.08"/><rect x="1048.55" y="314.38" width="3.1" height="564.92" fill="#0a1414" fill-opacity="0.42"/><rect x="1048.55" y="311.88" width="3.1" height="2.5" fill="#000" fill-opacity="0.08"/><rect x="1051.65" y="316.38" width="2.9" height="564.92" fill="#000" fill-opacity="0.25"/><rect x="1051.65" y="313.88" width="2.9" height="2.5" fill="#000" fill-opacity="0.09"/><svg x="980.25" y="307.78" width="67.40" height="563.12" viewBox="980.25 307.78 67.40 563.12"><rect x="980.25" y="307.78" width="67.40" height="563.12" fill="#fff"/><use href="#po" x="974.46" y="288.37"/><use href="#po" x="999.46" y="288.37"/><use href="#po" x="1024.46" y="288.37"/><use href="#po" x="974.46" y="313.37"/><use href="#po" x="999.46" y="313.37"/><use href="#po" x="1024.46" y="313.37"/><use href="#po" x="974.46" y="338.37"/><use href="#po" x="999.46" y="338.37"/><use href="#po" x="1024.46" y="338.37"/><use href="#po" x="974.46" y="363.37"/><use href="#po" x="999.46" y="363.37"/><use href="#po" x="1024.46" y="363.37"/><use href="#po" x="974.46" y="388.37"/><use href="#po" x="999.46" y="388.37"/><use href="#po" x="1024.46" y="388.37"/><use href="#po" x="974.46" y="413.37"/><use href="#po" x="999.46" y="413.37"/><use href="#po" x="1024.46" y="413.37"/><use href="#po" x="974.46" y="438.37"/><use href="#po" x="999.46" y="438.37"/><use href="#po" x="1024.46" y="438.37"/><use href="#po" x="974.46" y="463.37"/><use href="#po" x="999.46" y="463.37"/><use href="#po" x="1024.46" y="463.37"/><use href="#po" x="974.46" y="488.37"/><use href="#po" x="999.46" y="488.37"/><use href="#po" x="1024.46" y="488.37"/><use href="#po" x="974.46" y="513.37"/><use href="#po" x="999.46" y="513.37"/><use href="#po" x="1024.46" y="513.37"/><use href="#po" x="974.46" y="538.37"/><use href="#po" x="999.46" y="538.37"/><use href="#po" x="1024.46" y="538.37"/><use href="#po" x="974.46" y="563.37"/><use href="#po" x="999.46" y="563.37"/><use href="#po" x="1024.46" y="563.37"/><use href="#po" x="974.46" y="588.37"/><use href="#po" x="999.46" y="588.37"/><use href="#po" x="1024.46" y="588.37"/><use href="#po" x="974.46" y="613.37"/><use href="#po" x="999.46" y="613.37"/><use href="#po" x="1024.46" y="613.37"/><use href="#po" x="974.46" y="638.37"/><use href="#po" x="999.46" y="638.37"/><use href="#po" x="1024.46" y="638.37"/><use href="#po" x="974.46" y="663.37"/><use href="#po" x="999.46" y="663.37"/><use href="#po" x="1024.46" y="663.37"/><use href="#po" x="974.46" y="688.37"/><use href="#po" x="999.46" y="688.37"/><use href="#po" x="1024.46" y="688.37"/><use href="#po" x="974.46" y="713.37"/><use href="#po" x="999.46" y="713.37"/><use href="#po" x="1024.46" y="713.37"/><use href="#po" x="974.46" y="738.37"/><use href="#po" x="999.46" y="738.37"/><use href="#po" x="1024.46" y="738.37"/><use href="#po" x="974.46" y="763.37"/><use href="#po" x="999.46" y="763.37"/><use href="#po" x="1024.46" y="763.37"/><use href="#po" x="974.46" y="788.37"/><use href="#po" x="999.46" y="788.37"/><use href="#po" x="1024.46" y="788.37"/><use href="#po" x="974.46" y="813.37"/><use href="#po" x="999.46" y="813.37"/><use href="#po" x="1024.46" y="813.37"/><use href="#po" x="974.46" y="838.37"/><use href="#po" x="999.46" y="838.37"/><use href="#po" x="1024.46" y="838.37"/><use href="#po" x="974.46" y="863.37"/><use href="#po" x="999.46" y="863.37"/><use href="#po" x="1024.46" y="863.37"/></svg><rect x="980.25" y="307.78" width="67.40" height="563.12" fill="none" stroke="#BE4B48" stroke-width="3.4" stroke-linejoin="round"/><rect x="1107.45" y="563.65" width="3.4" height="317.65" fill="#000" fill-opacity="0.125"/><rect x="1107.45" y="561.15" width="3.4" height="2.5" fill="#000" fill-opacity="0.04"/><rect x="1110.85" y="561.65" width="2.6" height="317.65" fill="#0a1414" fill-opacity="0.42"/><rect x="1110.85" y="559.15" width="2.6" height="2.5" fill="#000" fill-opacity="0.08"/><rect x="1182.65" y="561.65" width="3.1" height="317.65" fill="#0a1414" fill-opacity="0.42"/><rect x="1182.65" y="559.15" width="3.1" height="2.5" fill="#000" fill-opacity="0.08"/><rect x="1185.75" y="563.65" width="2.9" height="317.65" fill="#000" fill-opacity="0.25"/><rect x="1185.75" y="561.15" width="2.9" height="2.5" fill="#000" fill-opacity="0.09"/><svg x="1114.35" y="555.05" width="67.40" height="315.85" viewBox="1114.35 555.05 67.40 315.85"><rect x="1114.35" y="555.05" width="67.40" height="315.85" fill="#fff"/><use href="#pg" x="1099.46" y="538.37"/><use href="#pg" x="1124.46" y="538.37"/><use href="#pg" x="1149.46" y="538.37"/><use href="#pg" x="1174.46" y="538.37"/><use href="#pg" x="1099.46" y="563.37"/><use href="#pg" x="1124.46" y="563.37"/><use href="#pg" x="1149.46" y="563.37"/><use href="#pg" x="1174.46" y="563.37"/><use href="#pg" x="1099.46" y="588.37"/><use href="#pg" x="1124.46" y="588.37"/><use href="#pg" x="1149.46" y="588.37"/><use href="#pg" x="1174.46" y="588.37"/><use href="#pg" x="1099.46" y="613.37"/><use href="#pg" x="1124.46" y="613.37"/><use href="#pg" x="1149.46" y="613.37"/><use href="#pg" x="1174.46" y="613.37"/><use href="#pg" x="1099.46" y="638.37"/><use href="#pg" x="1124.46" y="638.37"/><use href="#pg" x="1149.46" y="638.37"/><use href="#pg" x="1174.46" y="638.37"/><use href="#pg" x="1099.46" y="663.37"/><use href="#pg" x="1124.46" y="663.37"/><use href="#pg" x="1149.46" y="663.37"/><use href="#pg" x="1174.46" y="663.37"/><use href="#pg" x="1099.46" y="688.37"/><use href="#pg" x="1124.46" y="688.37"/><use href="#pg" x="1149.46" y="688.37"/><use href="#pg" x="1174.46" y="688.37"/><use href="#pg" x="1099.46" y="713.37"/><use href="#pg" x="1124.46" y="713.37"/><use href="#pg" x="1149.46" y="713.37"/><use href="#pg" x="1174.46" y="713.37"/><use href="#pg" x="1099.46" y="738.37"/><use href="#pg" x="1124.46" y="738.37"/><use href="#pg" x="1149.46" y="738.37"/><use href="#pg" x="1174.46" y="738.37"/><use href="#pg" x="1099.46" y="763.37"/><use href="#pg" x="1124.46" y="763.37"/><use href="#pg" x="1149.46" y="763.37"/><use href="#pg" x="1174.46" y="763.37"/><use href="#pg" x="1099.46" y="788.37"/><use href="#pg" x="1124.46" y="788.37"/><use href="#pg" x="1149.46" y="788.37"/><use href="#pg" x="1174.46" y="788.37"/><use href="#pg" x="1099.46" y="813.37"/><use href="#pg" x="1124.46" y="813.37"/><use href="#pg" x="1149.46" y="813.37"/><use href="#pg" x="1174.46" y="813.37"/><use href="#pg" x="1099.46" y="838.37"/><use href="#pg" x="1124.46" y="838.37"/><use href="#pg" x="1149.46" y="838.37"/><use href="#pg" x="1174.46" y="838.37"/><use href="#pg" x="1099.46" y="863.37"/><use href="#pg" x="1124.46" y="863.37"/><use href="#pg" x="1149.46" y="863.37"/><use href="#pg" x="1174.46" y="863.37"/></svg><rect x="1114.35" y="555.05" width="67.40" height="315.85" fill="none" stroke="#000" stroke-width="3.4" stroke-linejoin="round"/><rect x="1190.85" y="398.81" width="3.4" height="482.50" fill="#000" fill-opacity="0.125"/><rect x="1190.85" y="396.31" width="3.4" height="2.5" fill="#000" fill-opacity="0.04"/><rect x="1194.25" y="396.81" width="2.6" height="482.50" fill="#0a1414" fill-opacity="0.42"/><rect x="1194.25" y="394.31" width="2.6" height="2.5" fill="#000" fill-opacity="0.08"/><rect x="1266.05" y="396.81" width="3.1" height="482.50" fill="#0a1414" fill-opacity="0.42"/><rect x="1266.05" y="394.31" width="3.1" height="2.5" fill="#000" fill-opacity="0.08"/><rect x="1269.15" y="398.81" width="2.9" height="482.50" fill="#000" fill-opacity="0.25"/><rect x="1269.15" y="396.31" width="2.9" height="2.5" fill="#000" fill-opacity="0.09"/><svg x="1197.75" y="390.20" width="67.40" height="480.69" viewBox="1197.75 390.20 67.40 480.69"><rect x="1197.75" y="390.20" width="67.40" height="480.69" fill="#fff"/><use href="#po" x="1174.46" y="388.37"/><use href="#po" x="1199.46" y="388.37"/><use href="#po" x="1224.46" y="388.37"/><use href="#po" x="1249.46" y="388.37"/><use href="#po" x="1174.46" y="413.37"/><use href="#po" x="1199.46" y="413.37"/><use href="#po" x="1224.46" y="413.37"/><use href="#po" x="1249.46" y="413.37"/><use href="#po" x="1174.46" y="438.37"/><use href="#po" x="1199.46" y="438.37"/><use href="#po" x="1224.46" y="438.37"/><use href="#po" x="1249.46" y="438.37"/><use href="#po" x="1174.46" y="463.37"/><use href="#po" x="1199.46" y="463.37"/><use href="#po" x="1224.46" y="463.37"/><use href="#po" x="1249.46" y="463.37"/><use href="#po" x="1174.46" y="488.37"/><use href="#po" x="1199.46" y="488.37"/><use href="#po" x="1224.46" y="488.37"/><use href="#po" x="1249.46" y="488.37"/><use href="#po" x="1174.46" y="513.37"/><use href="#po" x="1199.46" y="513.37"/><use href="#po" x="1224.46" y="513.37"/><use href="#po" x="1249.46" y="513.37"/><use href="#po" x="1174.46" y="538.37"/><use href="#po" x="1199.46" y="538.37"/><use href="#po" x="1224.46" y="538.37"/><use href="#po" x="1249.46" y="538.37"/><use href="#po" x="1174.46" y="563.37"/><use href="#po" x="1199.46" y="563.37"/><use href="#po" x="1224.46" y="563.37"/><use href="#po" x="1249.46" y="563.37"/><use href="#po" x="1174.46" y="588.37"/><use href="#po" x="1199.46" y="588.37"/><use href="#po" x="1224.46" y="588.37"/><use href="#po" x="1249.46" y="588.37"/><use href="#po" x="1174.46" y="613.37"/><use href="#po" x="1199.46" y="613.37"/><use href="#po" x="1224.46" y="613.37"/><use href="#po" x="1249.46" y="613.37"/><use href="#po" x="1174.46" y="638.37"/><use href="#po" x="1199.46" y="638.37"/><use href="#po" x="1224.46" y="638.37"/><use href="#po" x="1249.46" y="638.37"/><use href="#po" x="1174.46" y="663.37"/><use href="#po" x="1199.46" y="663.37"/><use href="#po" x="1224.46" y="663.37"/><use href="#po" x="1249.46" y="663.37"/><use href="#po" x="1174.46" y="688.37"/><use href="#po" x="1199.46" y="688.37"/><use href="#po" x="1224.46" y="688.37"/><use href="#po" x="1249.46" y="688.37"/><use href="#po" x="1174.46" y="713.37"/><use href="#po" x="1199.46" y="713.37"/><use href="#po" x="1224.46" y="713.37"/><use href="#po" x="1249.46" y="713.37"/><use href="#po" x="1174.46" y="738.37"/><use href="#po" x="1199.46" y="738.37"/><use href="#po" x="1224.46" y="738.37"/><use href="#po" x="1249.46" y="738.37"/><use href="#po" x="1174.46" y="763.37"/><use href="#po" x="1199.46" y="763.37"/><use href="#po" x="1224.46" y="763.37"/><use href="#po" x="1249.46" y="763.37"/><use href="#po" x="1174.46" y="788.37"/><use href="#po" x="1199.46" y="788.37"/><use href="#po" x="1224.46" y="788.37"/><use href="#po" x="1249.46" y="788.37"/><use href="#po" x="1174.46" y="813.37"/><use href="#po" x="1199.46" y="813.37"/><use href="#po" x="1224.46" y="813.37"/><use href="#po" x="1249.46" y="813.37"/><use href="#po" x="1174.46" y="838.37"/><use href="#po" x="1199.46" y="838.37"/><use href="#po" x="1224.46" y="838.37"/><use href="#po" x="1249.46" y="838.37"/><use href="#po" x="1174.46" y="863.37"/><use href="#po" x="1199.46" y="863.37"/><use href="#po" x="1224.46" y="863.37"/><use href="#po" x="1249.46" y="863.37"/></svg><rect x="1197.75" y="390.20" width="67.40" height="480.69" fill="none" stroke="#BE4B48" stroke-width="3.4" stroke-linejoin="round"/><rect x="1324.95" y="536.17" width="3.4" height="345.12" fill="#000" fill-opacity="0.125"/><rect x="1324.95" y="533.67" width="3.4" height="2.5" fill="#000" fill-opacity="0.04"/><rect x="1328.35" y="534.17" width="2.6" height="345.12" fill="#0a1414" fill-opacity="0.42"/><rect x="1328.35" y="531.67" width="2.6" height="2.5" fill="#000" fill-opacity="0.08"/><rect x="1400.15" y="534.17" width="3.1" height="345.12" fill="#0a1414" fill-opacity="0.42"/><rect x="1400.15" y="531.67" width="3.1" height="2.5" fill="#000" fill-opacity="0.08"/><rect x="1403.25" y="536.17" width="2.9" height="345.12" fill="#000" fill-opacity="0.25"/><rect x="1403.25" y="533.67" width="2.9" height="2.5" fill="#000" fill-opacity="0.09"/><svg x="1331.85" y="527.58" width="67.40" height="343.32" viewBox="1331.85 527.58 67.40 343.32"><rect x="1331.85" y="527.58" width="67.40" height="343.32" fill="#fff"/><use href="#pg" x="1324.46" y="513.37"/><use href="#pg" x="1349.46" y="513.37"/><use href="#pg" x="1374.46" y="513.37"/><use href="#pg" x="1324.46" y="538.37"/><use href="#pg" x="1349.46" y="538.37"/><use href="#pg" x="1374.46" y="538.37"/><use href="#pg" x="1324.46" y="563.37"/><use href="#pg" x="1349.46" y="563.37"/><use href="#pg" x="1374.46" y="563.37"/><use href="#pg" x="1324.46" y="588.37"/><use href="#pg" x="1349.46" y="588.37"/><use href="#pg" x="1374.46" y="588.37"/><use href="#pg" x="1324.46" y="613.37"/><use href="#pg" x="1349.46" y="613.37"/><use href="#pg" x="1374.46" y="613.37"/><use href="#pg" x="1324.46" y="638.37"/><use href="#pg" x="1349.46" y="638.37"/><use href="#pg" x="1374.46" y="638.37"/><use href="#pg" x="1324.46" y="663.37"/><use href="#pg" x="1349.46" y="663.37"/><use href="#pg" x="1374.46" y="663.37"/><use href="#pg" x="1324.46" y="688.37"/><use href="#pg" x="1349.46" y="688.37"/><use href="#pg" x="1374.46" y="688.37"/><use href="#pg" x="1324.46" y="713.37"/><use href="#pg" x="1349.46" y="713.37"/><use href="#pg" x="1374.46" y="713.37"/><use href="#pg" x="1324.46" y="738.37"/><use href="#pg" x="1349.46" y="738.37"/><use href="#pg" x="1374.46" y="738.37"/><use href="#pg" x="1324.46" y="763.37"/><use href="#pg" x="1349.46" y="763.37"/><use href="#pg" x="1374.46" y="763.37"/><use href="#pg" x="1324.46" y="788.37"/><use href="#pg" x="1349.46" y="788.37"/><use href="#pg" x="1374.46" y="788.37"/><use href="#pg" x="1324.46" y="813.37"/><use href="#pg" x="1349.46" y="813.37"/><use href="#pg" x="1374.46" y="813.37"/><use href="#pg" x="1324.46" y="838.37"/><use href="#pg" x="1349.46" y="838.37"/><use href="#pg" x="1374.46" y="838.37"/><use href="#pg" x="1324.46" y="863.37"/><use href="#pg" x="1349.46" y="863.37"/><use href="#pg" x="1374.46" y="863.37"/></svg><rect x="1331.85" y="527.58" width="67.40" height="343.32" fill="none" stroke="#000" stroke-width="3.4" stroke-linejoin="round"/><rect x="1408.35" y="343.86" width="3.4" height="537.44" fill="#000" fill-opacity="0.125"/><rect x="1408.35" y="341.36" width="3.4" height="2.5" fill="#000" fill-opacity="0.04"/><rect x="1411.75" y="341.86" width="2.6" height="537.44" fill="#0a1414" fill-opacity="0.42"/><rect x="1411.75" y="339.36" width="2.6" height="2.5" fill="#000" fill-opacity="0.08"/><rect x="1483.55" y="341.86" width="3.1" height="537.44" fill="#0a1414" fill-opacity="0.42"/><rect x="1483.55" y="339.36" width="3.1" height="2.5" fill="#000" fill-opacity="0.08"/><rect x="1486.65" y="343.86" width="2.9" height="537.44" fill="#000" fill-opacity="0.25"/><rect x="1486.65" y="341.36" width="2.9" height="2.5" fill="#000" fill-opacity="0.09"/><svg x="1415.25" y="335.26" width="67.40" height="535.64" viewBox="1415.25 335.26 67.40 535.64"><rect x="1415.25" y="335.26" width="67.40" height="535.64" fill="#fff"/><use href="#po" x="1399.46" y="313.37"/><use href="#po" x="1424.46" y="313.37"/><use href="#po" x="1449.46" y="313.37"/><use href="#po" x="1474.46" y="313.37"/><use href="#po" x="1399.46" y="338.37"/><use href="#po" x="1424.46" y="338.37"/><use href="#po" x="1449.46" y="338.37"/><use href="#po" x="1474.46" y="338.37"/><use href="#po" x="1399.46" y="363.37"/><use href="#po" x="1424.46" y="363.37"/><use href="#po" x="1449.46" y="363.37"/><use href="#po" x="1474.46" y="363.37"/><use href="#po" x="1399.46" y="388.37"/><use href="#po" x="1424.46" y="388.37"/><use href="#po" x="1449.46" y="388.37"/><use href="#po" x="1474.46" y="388.37"/><use href="#po" x="1399.46" y="413.37"/><use href="#po" x="1424.46" y="413.37"/><use href="#po" x="1449.46" y="413.37"/><use href="#po" x="1474.46" y="413.37"/><use href="#po" x="1399.46" y="438.37"/><use href="#po" x="1424.46" y="438.37"/><use href="#po" x="1449.46" y="438.37"/><use href="#po" x="1474.46" y="438.37"/><use href="#po" x="1399.46" y="463.37"/><use href="#po" x="1424.46" y="463.37"/><use href="#po" x="1449.46" y="463.37"/><use href="#po" x="1474.46" y="463.37"/><use href="#po" x="1399.46" y="488.37"/><use href="#po" x="1424.46" y="488.37"/><use href="#po" x="1449.46" y="488.37"/><use href="#po" x="1474.46" y="488.37"/><use href="#po" x="1399.46" y="513.37"/><use href="#po" x="1424.46" y="513.37"/><use href="#po" x="1449.46" y="513.37"/><use href="#po" x="1474.46" y="513.37"/><use href="#po" x="1399.46" y="538.37"/><use href="#po" x="1424.46" y="538.37"/><use href="#po" x="1449.46" y="538.37"/><use href="#po" x="1474.46" y="538.37"/><use href="#po" x="1399.46" y="563.37"/><use href="#po" x="1424.46" y="563.37"/><use href="#po" x="1449.46" y="563.37"/><use href="#po" x="1474.46" y="563.37"/><use href="#po" x="1399.46" y="588.37"/><use href="#po" x="1424.46" y="588.37"/><use href="#po" x="1449.46" y="588.37"/><use href="#po" x="1474.46" y="588.37"/><use href="#po" x="1399.46" y="613.37"/><use href="#po" x="1424.46" y="613.37"/><use href="#po" x="1449.46" y="613.37"/><use href="#po" x="1474.46" y="613.37"/><use href="#po" x="1399.46" y="638.37"/><use href="#po" x="1424.46" y="638.37"/><use href="#po" x="1449.46" y="638.37"/><use href="#po" x="1474.46" y="638.37"/><use href="#po" x="1399.46" y="663.37"/><use href="#po" x="1424.46" y="663.37"/><use href="#po" x="1449.46" y="663.37"/><use href="#po" x="1474.46" y="663.37"/><use href="#po" x="1399.46" y="688.37"/><use href="#po" x="1424.46" y="688.37"/><use href="#po" x="1449.46" y="688.37"/><use href="#po" x="1474.46" y="688.37"/><use href="#po" x="1399.46" y="713.37"/><use href="#po" x="1424.46" y="713.37"/><use href="#po" x="1449.46" y="713.37"/><use href="#po" x="1474.46" y="713.37"/><use href="#po" x="1399.46" y="738.37"/><use href="#po" x="1424.46" y="738.37"/><use href="#po" x="1449.46" y="738.37"/><use href="#po" x="1474.46" y="738.37"/><use href="#po" x="1399.46" y="763.37"/><use href="#po" x="1424.46" y="763.37"/><use href="#po" x="1449.46" y="763.37"/><use href="#po" x="1474.46" y="763.37"/><use href="#po" x="1399.46" y="788.37"/><use href="#po" x="1424.46" y="788.37"/><use href="#po" x="1449.46" y="788.37"/><use href="#po" x="1474.46" y="788.37"/><use href="#po" x="1399.46" y="813.37"/><use href="#po" x="1424.46" y="813.37"/><use href="#po" x="1449.46" y="813.37"/><use href="#po" x="1474.46" y="813.37"/><use href="#po" x="1399.46" y="838.37"/><use href="#po" x="1424.46" y="838.37"/><use href="#po" x="1449.46" y="838.37"/><use href="#po" x="1474.46" y="838.37"/><use href="#po" x="1399.46" y="863.37"/><use href="#po" x="1424.46" y="863.37"/><use href="#po" x="1449.46" y="863.37"/><use href="#po" x="1474.46" y="863.37"/></svg><rect x="1415.25" y="335.26" width="67.40" height="535.64" fill="none" stroke="#BE4B48" stroke-width="3.4" stroke-linejoin="round"/><rect x="1542.45" y="577.39" width="3.4" height="303.91" fill="#000" fill-opacity="0.125"/><rect x="1542.45" y="574.89" width="3.4" height="2.5" fill="#000" fill-opacity="0.04"/><rect x="1545.85" y="575.39" width="2.6" height="303.91" fill="#0a1414" fill-opacity="0.42"/><rect x="1545.85" y="572.89" width="2.6" height="2.5" fill="#000" fill-opacity="0.08"/><rect x="1617.65" y="575.39" width="3.1" height="303.91" fill="#0a1414" fill-opacity="0.42"/><rect x="1617.65" y="572.89" width="3.1" height="2.5" fill="#000" fill-opacity="0.08"/><rect x="1620.75" y="577.39" width="2.9" height="303.91" fill="#000" fill-opacity="0.25"/><rect x="1620.75" y="574.89" width="2.9" height="2.5" fill="#000" fill-opacity="0.09"/><svg x="1549.35" y="568.79" width="67.40" height="302.11" viewBox="1549.35 568.79 67.40 302.11"><rect x="1549.35" y="568.79" width="67.40" height="302.11" fill="#fff"/><use href="#pg" x="1524.46" y="563.37"/><use href="#pg" x="1549.46" y="563.37"/><use href="#pg" x="1574.46" y="563.37"/><use href="#pg" x="1599.46" y="563.37"/><use href="#pg" x="1524.46" y="588.37"/><use href="#pg" x="1549.46" y="588.37"/><use href="#pg" x="1574.46" y="588.37"/><use href="#pg" x="1599.46" y="588.37"/><use href="#pg" x="1524.46" y="613.37"/><use href="#pg" x="1549.46" y="613.37"/><use href="#pg" x="1574.46" y="613.37"/><use href="#pg" x="1599.46" y="613.37"/><use href="#pg" x="1524.46" y="638.37"/><use href="#pg" x="1549.46" y="638.37"/><use href="#pg" x="1574.46" y="638.37"/><use href="#pg" x="1599.46" y="638.37"/><use href="#pg" x="1524.46" y="663.37"/><use href="#pg" x="1549.46" y="663.37"/><use href="#pg" x="1574.46" y="663.37"/><use href="#pg" x="1599.46" y="663.37"/><use href="#pg" x="1524.46" y="688.37"/><use href="#pg" x="1549.46" y="688.37"/><use href="#pg" x="1574.46" y="688.37"/><use href="#pg" x="1599.46" y="688.37"/><use href="#pg" x="1524.46" y="713.37"/><use href="#pg" x="1549.46" y="713.37"/><use href="#pg" x="1574.46" y="713.37"/><use href="#pg" x="1599.46" y="713.37"/><use href="#pg" x="1524.46" y="738.37"/><use href="#pg" x="1549.46" y="738.37"/><use href="#pg" x="1574.46" y="738.37"/><use href="#pg" x="1599.46" y="738.37"/><use href="#pg" x="1524.46" y="763.37"/><use href="#pg" x="1549.46" y="763.37"/><use href="#pg" x="1574.46" y="763.37"/><use href="#pg" x="1599.46" y="763.37"/><use href="#pg" x="1524.46" y="788.37"/><use href="#pg" x="1549.46" y="788.37"/><use href="#pg" x="1574.46" y="788.37"/><use href="#pg" x="1599.46" y="788.37"/><use href="#pg" x="1524.46" y="813.37"/><use href="#pg" x="1549.46" y="813.37"/><use href="#pg" x="1574.46" y="813.37"/><use href="#pg" x="1599.46" y="813.37"/><use href="#pg" x="1524.46" y="838.37"/><use href="#pg" x="1549.46" y="838.37"/><use href="#pg" x="1574.46" y="838.37"/><use href="#pg" x="1599.46" y="838.37"/><use href="#pg" x="1524.46" y="863.37"/><use href="#pg" x="1549.46" y="863.37"/><use href="#pg" x="1574.46" y="863.37"/><use href="#pg" x="1599.46" y="863.37"/></svg><rect x="1549.35" y="568.79" width="67.40" height="302.11" fill="none" stroke="#000" stroke-width="3.4" stroke-linejoin="round"/><rect x="1625.85" y="426.28" width="3.4" height="455.02" fill="#000" fill-opacity="0.125"/><rect x="1625.85" y="423.78" width="3.4" height="2.5" fill="#000" fill-opacity="0.04"/><rect x="1629.25" y="424.28" width="2.6" height="455.02" fill="#0a1414" fill-opacity="0.42"/><rect x="1629.25" y="421.78" width="2.6" height="2.5" fill="#000" fill-opacity="0.08"/><rect x="1701.05" y="424.28" width="3.1" height="455.02" fill="#0a1414" fill-opacity="0.42"/><rect x="1701.05" y="421.78" width="3.1" height="2.5" fill="#000" fill-opacity="0.08"/><rect x="1704.15" y="426.28" width="2.9" height="455.02" fill="#000" fill-opacity="0.25"/><rect x="1704.15" y="423.78" width="2.9" height="2.5" fill="#000" fill-opacity="0.09"/><svg x="1632.75" y="417.68" width="67.40" height="453.22" viewBox="1632.75 417.68 67.40 453.22"><rect x="1632.75" y="417.68" width="67.40" height="453.22" fill="#fff"/><use href="#po" x="1624.46" y="413.37"/><use href="#po" x="1649.46" y="413.37"/><use href="#po" x="1674.46" y="413.37"/><use href="#po" x="1699.46" y="413.37"/><use href="#po" x="1624.46" y="438.37"/><use href="#po" x="1649.46" y="438.37"/><use href="#po" x="1674.46" y="438.37"/><use href="#po" x="1699.46" y="438.37"/><use href="#po" x="1624.46" y="463.37"/><use href="#po" x="1649.46" y="463.37"/><use href="#po" x="1674.46" y="463.37"/><use href="#po" x="1699.46" y="463.37"/><use href="#po" x="1624.46" y="488.37"/><use href="#po" x="1649.46" y="488.37"/><use href="#po" x="1674.46" y="488.37"/><use href="#po" x="1699.46" y="488.37"/><use href="#po" x="1624.46" y="513.37"/><use href="#po" x="1649.46" y="513.37"/><use href="#po" x="1674.46" y="513.37"/><use href="#po" x="1699.46" y="513.37"/><use href="#po" x="1624.46" y="538.37"/><use href="#po" x="1649.46" y="538.37"/><use href="#po" x="1674.46" y="538.37"/><use href="#po" x="1699.46" y="538.37"/><use href="#po" x="1624.46" y="563.37"/><use href="#po" x="1649.46" y="563.37"/><use href="#po" x="1674.46" y="563.37"/><use href="#po" x="1699.46" y="563.37"/><use href="#po" x="1624.46" y="588.37"/><use href="#po" x="1649.46" y="588.37"/><use href="#po" x="1674.46" y="588.37"/><use href="#po" x="1699.46" y="588.37"/><use href="#po" x="1624.46" y="613.37"/><use href="#po" x="1649.46" y="613.37"/><use href="#po" x="1674.46" y="613.37"/><use href="#po" x="1699.46" y="613.37"/><use href="#po" x="1624.46" y="638.37"/><use href="#po" x="1649.46" y="638.37"/><use href="#po" x="1674.46" y="638.37"/><use href="#po" x="1699.46" y="638.37"/><use href="#po" x="1624.46" y="663.37"/><use href="#po" x="1649.46" y="663.37"/><use href="#po" x="1674.46" y="663.37"/><use href="#po" x="1699.46" y="663.37"/><use href="#po" x="1624.46" y="688.37"/><use href="#po" x="1649.46" y="688.37"/><use href="#po" x="1674.46" y="688.37"/><use href="#po" x="1699.46" y="688.37"/><use href="#po" x="1624.46" y="713.37"/><use href="#po" x="1649.46" y="713.37"/><use href="#po" x="1674.46" y="713.37"/><use href="#po" x="1699.46" y="713.37"/><use href="#po" x="1624.46" y="738.37"/><use href="#po" x="1649.46" y="738.37"/><use href="#po" x="1674.46" y="738.37"/><use href="#po" x="1699.46" y="738.37"/><use href="#po" x="1624.46" y="763.37"/><use href="#po" x="1649.46" y="763.37"/><use href="#po" x="1674.46" y="763.37"/><use href="#po" x="1699.46" y="763.37"/><use href="#po" x="1624.46" y="788.37"/><use href="#po" x="1649.46" y="788.37"/><use href="#po" x="1674.46" y="788.37"/><use href="#po" x="1699.46" y="788.37"/><use href="#po" x="1624.46" y="813.37"/><use href="#po" x="1649.46" y="813.37"/><use href="#po" x="1674.46" y="813.37"/><use href="#po" x="1699.46" y="813.37"/><use href="#po" x="1624.46" y="838.37"/><use href="#po" x="1649.46" y="838.37"/><use href="#po" x="1674.46" y="838.37"/><use href="#po" x="1699.46" y="838.37"/><use href="#po" x="1624.46" y="863.37"/><use href="#po" x="1649.46" y="863.37"/><use href="#po" x="1674.46" y="863.37"/><use href="#po" x="1699.46" y="863.37"/></svg><rect x="1632.75" y="417.68" width="67.40" height="453.22" fill="none" stroke="#BE4B48" stroke-width="3.4" stroke-linejoin="round"/></g>
<text class="b" font-size="50.0" text-anchor="end" transform="translate(166,893.90) scale(1,1.045)">0.00</text><text class="b" font-size="50.0" text-anchor="end" transform="translate(166,756.53) scale(1,1.045)">1.00</text><text class="b" font-size="50.0" text-anchor="end" transform="translate(166,619.16) scale(1,1.045)">2.00</text><text class="b" font-size="50.0" text-anchor="end" transform="translate(166,481.79) scale(1,1.045)">3.00</text><text class="b" font-size="50.0" text-anchor="end" transform="translate(166,344.42) scale(1,1.045)">4.00</text><text class="b" font-size="50.0" text-anchor="end" transform="translate(166,207.05) scale(1,1.045)">5.00</text><text class="b" font-size="50.0" text-anchor="end" transform="translate(166,69.68) scale(1,1.045)">6.00</text>
<g font-size="50.4" text-anchor="middle"><text x="277.15" y="564.26">2.00</text><text x="361.25" y="440.23">2.90</text><text x="494.65" y="440.63">2.90</text><text x="578.75" y="234.17">4.40</text><text x="712.15" y="275.78">4.10</text><text x="796.25" y="69.33">5.60</text><text x="929.65" y="468.10">2.70</text><text x="1013.75" y="275.38">4.10</text><text x="1147.15" y="523.05">2.30</text><text x="1231.25" y="357.81">3.50</text><text x="1364.65" y="495.58">2.50</text><text x="1448.75" y="302.86">3.90</text><text x="1582.15" y="536.79">2.20</text><text x="1666.25" y="385.28">3.30</text></g>
<text class="b" font-size="50.0" text-anchor="middle" transform="translate(319.75,946.6) scale(1,1.045)">A0</text><text class="b" font-size="50.0" text-anchor="middle" transform="translate(537.25,946.6) scale(1,1.045)">B1</text><text class="b" font-size="50.0" text-anchor="middle" transform="translate(754.75,946.6) scale(1,1.045)">B2</text><text class="b" font-size="50.0" text-anchor="middle" transform="translate(972.25,946.6) scale(1,1.045)">B3</text><text class="b" font-size="50.0" text-anchor="middle" transform="translate(1189.75,946.6) scale(1,1.045)">C1</text><text class="b" font-size="50.0" text-anchor="middle" transform="translate(1407.25,946.6) scale(1,1.045)">C2</text><text class="b" font-size="50.0" text-anchor="middle" transform="translate(1624.75,946.6) scale(1,1.045)">C3</text>
<text class="b" font-size="50.0" text-anchor="middle" transform="translate(878.8,1000.2) scale(1,1.03)">Mix-ID</text>
<text class="b" font-size="50.0" text-anchor="middle" transform="translate(53.7,458.7) rotate(-90) scale(1.0107,1.0)">Split Tensile Stength (N/mm<tspan font-size="34" dy="-14.6">2</tspan><tspan dy="14.6">)</tspan></text>
<svg x="1028.00" y="66.80" width="26.10" height="26.10" viewBox="1028.00 66.80 26.10 26.10"><rect x="1028.00" y="66.80" width="26.10" height="26.10" fill="#fff"/><use href="#pg" x="1024.46" y="63.37"/><use href="#pg" x="1049.46" y="63.37"/><use href="#pg" x="1024.46" y="88.37"/><use href="#pg" x="1049.46" y="88.37"/></svg><rect x="1028" y="66.8" width="26.1" height="26.1" fill="none" stroke="#000" stroke-width="3.6" stroke-linejoin="round"/><text class="b" font-size="50.0" text-anchor="start" transform="translate(1065.9,93.0) scale(1,1.0)">Split tensile Strength 7 Days</text>
<svg x="1028.00" y="143.60" width="26.10" height="26.10" viewBox="1028.00 143.60 26.10 26.10"><rect x="1028.00" y="143.60" width="26.10" height="26.10" fill="#fff"/><use href="#po" x="1024.46" y="138.37"/><use href="#po" x="1049.46" y="138.37"/><use href="#po" x="1024.46" y="163.37"/><use href="#po" x="1049.46" y="163.37"/></svg><rect x="1028" y="143.6" width="26.1" height="26.1" fill="none" stroke="#BE4B48" stroke-width="3.6" stroke-linejoin="round"/><text class="b" font-size="50.0" text-anchor="start" transform="translate(1065.9,169.3) scale(1,1.0)">Split tensile Strength 28 Days</text>
<g fill="#ff0000"><rect x="0" y="0" width="1786" height="4.3"/><rect x="0" y="0" width="4.4" height="1030"/><rect x="1781.4" y="0" width="4.6" height="1030"/><rect x="0" y="1025.25" width="1786" height="4.75"/></g>
</svg>
</body>
</html>
